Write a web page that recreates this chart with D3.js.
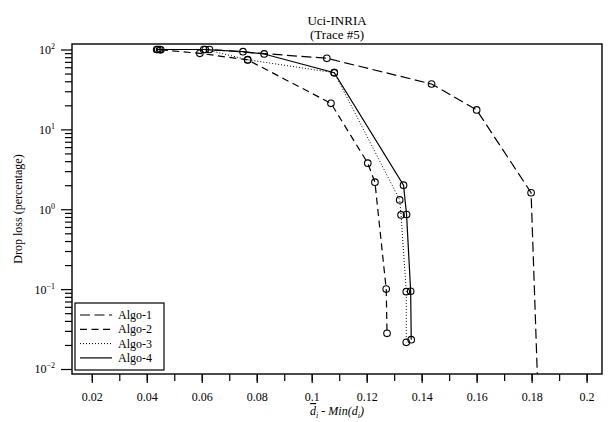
<!DOCTYPE html>
<html>
<head>
<meta charset="utf-8">
<script src="https://cdn.jsdelivr.net/npm/d3@7"></script>
<style>
  body { margin: 0; background: #fff; }
  svg text { font-family: "Liberation Serif", "Times New Roman", serif; fill: #000; }
</style>
</head>
<body>
<div id="chart"></div>
<script>
var svgWidth = 613;
var svgHeight = 422;

var margin = { top: 44, right: 11, bottom: 48, left: 72 };
var width = svgWidth - margin.left - margin.right;
var height = svgHeight - margin.top - margin.bottom;

// series names and dash styles
var seriesNames = ["Algo-1", "Algo-2", "Algo-3", "Algo-4"];
var seriesDash = ["10,4.5", "7,4.5", "1,2", null];

// x = d-bar minus min(d), y = drop loss (%)
var algo1X = [0.0436, 0.0628, 0.1055, 0.1436, 0.1600, 0.1798, 0.1830];
var algo1Y = [100, 100, 77.6, 37, 17.5, 1.61, 0.001];

var algo2X = [0.0451, 0.0593, 0.0767, 0.1070, 0.1204, 0.1230, 0.1271, 0.1274];
var algo2Y = [99, 89.6, 74, 21.2, 3.77, 2.18, 0.100, 0.028];

var algo3X = [0.0447, 0.0613, 0.0767, 0.1082, 0.1320, 0.1325, 0.1344, 0.1344];
var algo3Y = [100, 100, 74.5, 51.2, 1.31, 0.85, 0.093, 0.0216];

var algo4X = [0.0440, 0.0607, 0.0750, 0.0827, 0.1082, 0.1334, 0.1345, 0.1360, 0.1362];
var algo4Y = [100, 100, 93.8, 87.9, 51.2, 2.0, 0.86, 0.094, 0.0233];

var xTicks = [0.02, 0.04, 0.06, 0.08, 0.1, 0.12, 0.14, 0.16, 0.18, 0.2];
var yDecades = [-2, -1, 0, 1, 2];

var allX = [algo1X, algo2X, algo3X, algo4X];
var allY = [algo1Y, algo2Y, algo3Y, algo4Y];

var series = seriesNames.map(function(name, i) {
  return {
    name: name,
    dash: seriesDash[i],
    values: allX[i].map(function(x, j) { return { x: x, y: allY[i][j] }; })
  };
});

var svg = d3.select("#chart")
  .append("svg")
  .attr("width", svgWidth)
  .attr("height", svgHeight);

var chartGroup = svg.append("g")
  .attr("transform", `translate(${margin.left}, ${margin.top})`);

var xScale = d3.scaleLinear()
  .domain([0.0128, 0.2056])
  .range([0, width]);

var yScale = d3.scaleLog()
  .domain([Math.pow(10, -2.0626), Math.pow(10, 2.0688)])
  .range([height, 0]);

// clip so the last Algo-1 segment runs out the bottom
svg.append("defs").append("clipPath")
  .attr("id", "plot-clip")
  .append("rect")
  .attr("width", width)
  .attr("height", height);

var serif = "Liberation Serif, Times New Roman, serif";

// x axis, major + minor ticks
var xMinor = d3.range(0.02, 0.2001, 0.01);
var bottomMinor = d3.axisBottom(xScale).tickValues(xMinor).tickSize(7).tickFormat("");
var bottomAxis = d3.axisBottom(xScale).tickValues(xTicks).tickSize(9)
  .tickFormat(function(d) { return d3.format("")(+d.toFixed(2)); });

chartGroup.append("g")
  .attr("transform", `translate(0, ${height})`)
  .call(bottomMinor);

var xAxis = chartGroup.append("g")
  .attr("transform", `translate(0, ${height})`)
  .call(bottomAxis)
  .attr("font-family", serif)
  .attr("font-size", 12);

xAxis.selectAll("text")
  .attr("y", 18)
  .attr("font-family", serif);

// y axis, decades + minor
var yMinor = [];
yDecades.forEach(function(e) {
  if (e < 2) {
    for (var k = 2; k <= 9; k++) yMinor.push(k * Math.pow(10, e));
  }
});
var yMajor = yDecades.map(function(e) { return Math.pow(10, e); });

chartGroup.append("g")
  .call(d3.axisLeft(yScale).tickValues(yMinor).tickSize(7).tickFormat(""));

var yAxis = chartGroup.append("g")
  .call(d3.axisLeft(yScale).tickValues(yMajor).tickSize(11).tickFormat(""))
  .attr("font-family", serif);

yAxis.selectAll(".tick").each(function(d, i) {
  var t = d3.select(this).append("text")
    .attr("x", -17)
    .attr("y", 4)
    .attr("text-anchor", "end")
    .style("font-size", "12px");
  t.append("tspan").text("10");
  t.append("tspan")
    .attr("dy", -5)
    .style("font-size", "8px")
    .text(yDecades[i] < 0 ? "\u2212" + (-yDecades[i]) : yDecades[i]);
});

// remove the default domain paths, draw a box instead
chartGroup.selectAll(".domain").remove();
chartGroup.selectAll(".tick line").attr("stroke", "#000").attr("stroke-width", 1.2);

chartGroup.append("rect")
  .attr("width", width)
  .attr("height", height)
  .attr("fill", "none")
  .attr("stroke", "#000")
  .attr("stroke-width", 1.4);

// lines
var line = d3.line()
  .x(d => xScale(d.x))
  .y(d => yScale(d.y));

var plot = chartGroup.append("g").attr("clip-path", "url(#plot-clip)");

plot.selectAll(".series")
  .data(series)
  .enter()
  .append("path")
  .attr("d", d => line(d.values))
  .attr("fill", "none")
  .attr("stroke", "#000")
  .attr("stroke-width", d => d.dash === "1,2" ? 1 : 1.2)
  .attr("stroke-dasharray", d => d.dash);

// circle markers
series.forEach(function(s) {
  plot.selectAll(null)
    .data(s.values)
    .enter()
    .append("circle")
    .attr("cx", d => xScale(d.x))
    .attr("cy", d => yScale(d.y))
    .attr("r", 3.3)
    .attr("fill", "none")
    .attr("stroke", "#000")
    .attr("stroke-width", 1.1);
});

// legend
var legend = chartGroup.append("g")
  .attr("transform", `translate(3, ${height - 71})`);

legend.append("rect")
  .attr("width", 89)
  .attr("height", 67)
  .attr("fill", "#fff")
  .attr("stroke", "#000")
  .attr("stroke-width", 1.2);

series.forEach(function(s, i) {
  var yy = 12 + i * 14.3;
  legend.append("line")
    .attr("x1", 5)
    .attr("x2", 37)
    .attr("y1", yy)
    .attr("y2", yy)
    .attr("stroke", "#000")
    .attr("stroke-width", s.dash === "1,2" ? 1 : 1.2)
    .attr("stroke-dasharray", s.dash);
  legend.append("text")
    .attr("x", 43)
    .attr("y", yy + 4)
    .style("font-size", "12px")
    .text(s.name);
});

// titles
svg.append("text")
  .attr("x", margin.left + width / 2)
  .attr("y", 25)
  .attr("text-anchor", "middle")
  .style("font-size", "13px")
  .text("Uci-INRIA");

svg.append("text")
  .attr("x", margin.left + width / 2)
  .attr("y", 39)
  .attr("text-anchor", "middle")
  .style("font-size", "13px")
  .text("(Trace #5)");

// y label
svg.append("text")
  .attr("transform", "rotate(-90)")
  .attr("x", -(margin.top + height / 2))
  .attr("y", 22)
  .attr("text-anchor", "middle")
  .style("font-size", "12px")
  .text("Drop loss (percentage)");

// x label: d-bar_i -  Min(d_i)
var xl = svg.append("text")
  .attr("x", margin.left + width / 2)
  .attr("y", 415)
  .attr("text-anchor", "middle")
  .style("font-size", "12px");
xl.append("tspan").style("font-style", "italic").style("text-decoration", "overline").text("d");
xl.append("tspan").attr("dy", 3).style("font-size", "8px").style("font-style", "italic").text("i");
xl.append("tspan").attr("dy", -3).text(" -  ");
xl.append("tspan").style("font-style", "italic").text("Min(d");
xl.append("tspan").attr("dy", 3).style("font-size", "8px").style("font-style", "italic").text("i");
xl.append("tspan").attr("dy", -3).style("font-style", "italic").text(")");
</script>
</body>
</html>
